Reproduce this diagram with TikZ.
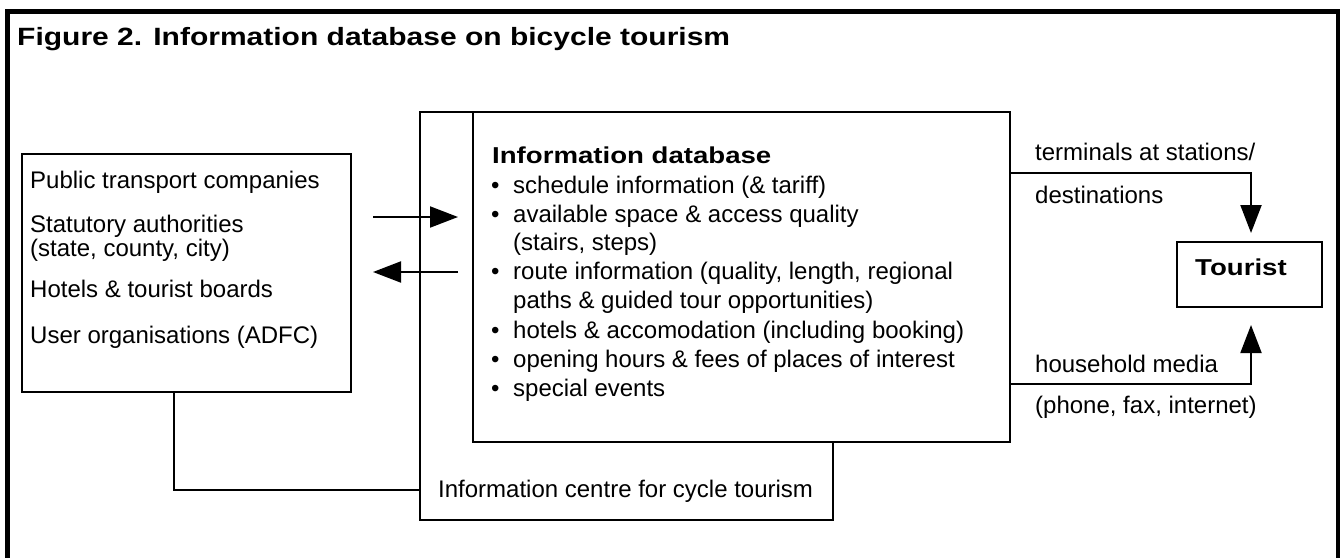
\documentclass[tikz,border=0pt]{standalone}
\usepackage{fontspec}
\setmainfont{Liberation Sans}
\newfontfamily\headfont{Liberation Sans}[FakeStretch=1.2]
\usetikzlibrary{arrows.meta}
\begin{document}
\begin{tikzpicture}[x=1pt,y=-1pt,
  txt/.style={anchor=base west, inner sep=0pt, font=\fontsize{24pt}{28pt}\selectfont},
  headtxt/.style={anchor=base west, inner sep=0pt, font=\headfont\bfseries\fontsize{23pt}{27pt}\selectfont},
  box/.style={draw, line width=2.2pt, fill=white, rectangle, inner sep=0pt, outer sep=0pt, anchor=north west},
  link/.style={line width=2pt},
  arr/.style={link, -{Triangle[length=28pt,width=21pt]}},
]
\useasboundingbox (0,0) rectangle (1340,557);

% outer frame, open at the bottom
\draw[line width=4.7pt] (7.5,560) -- (7.5,11.7) -- (1338,11.7) -- (1338,560);

% title
\node[headtxt, font=\headfont\bfseries\fontsize{25pt}{30pt}\selectfont] (title) at (17,45)
  {Figure 2. Information database on bicycle tourism};

% boxes
\node[box, minimum width=329pt, minimum height=238pt] (src) at (22,154) {};
\node[box, minimum width=413pt, minimum height=408pt] (ctr) at (420,112) {};
\node[box, minimum width=537pt, minimum height=330pt] (db) at (473,112) {};
\node[box, minimum width=145pt, minimum height=65pt] (tour) at (1177,242) {};

% sources
\node[txt] (s1) at (30,188) {Public transport companies};
\node[txt] (s2) at (30,232) {Statutory authorities};
\node[txt] (s3) at (30,256) {(state, county, city)};
\node[txt] (s4) at (30,297) {Hotels \& tourist boards};
\node[txt] (s5) at (30,343) {User organisations (ADFC)};

% database contents
\node[headtxt] (dbhead) at (492,163) {Information database};
\node[txt] (b1) at (491,193) {•};
\node[txt] (d1) at (513,193) {schedule information (\& tariff)};
\node[txt] (b2) at (491,222) {•};
\node[txt] (d2) at (513,222) {available space \& access quality};
\node[txt] (d2b) at (513,250) {(stairs, steps)};
\node[txt] (b3) at (491,279) {•};
\node[txt] (d3) at (513,279) {route information (quality, length, regional};
\node[txt] (d3b) at (513,308) {paths \& guided tour opportunities)};
\node[txt] (b4) at (491,338) {•};
\node[txt] (d4) at (513,338) {hotels \& accomodation (including booking)};
\node[txt] (b5) at (491,367) {•};
\node[txt] (d5) at (513,367) {opening hours \& fees of places of interest};
\node[txt] (b6) at (491,396) {•};
\node[txt] (d6) at (513,396) {special events};

% centre label
\node[txt] (ctrlbl) at (438,497) {Information centre for cycle tourism};

% tourist
\node[headtxt] (tourlbl) at (1195,275) {Tourist};

% channel labels
\node[txt] (term1) at (1035,160) {terminals at stations/};
\node[txt] (term2) at (1035,203) {destinations};
\node[txt] (media1) at (1035,372) {household media};
\node[txt] (media2) at (1035,413) {(phone, fax, internet)};

% connectors
\coordinate (tap) at (174,490);
\draw[link] (src.south -| tap) -- (tap) -- (tap -| ctr.west);

\coordinate (fwd) at (0,217);
\coordinate (bwd) at (0,272);
\draw[arr, shorten <=22pt, shorten >=15pt] (src.east |- fwd) -- (db.west |- fwd);
\draw[arr, shorten <=15pt, shorten >=22pt] (db.west |- bwd) -- (src.east |- bwd);

\coordinate (upy) at (1251,173);
\coordinate (lowy) at (1251,384);
\draw[arr, shorten >=9pt] (db.east |- upy) -- (upy) -- (upy |- tour.north);
\draw[arr, shorten >=18pt] (db.east |- lowy) -- (lowy) -- (lowy |- tour.south);
\end{tikzpicture}
\end{document}
